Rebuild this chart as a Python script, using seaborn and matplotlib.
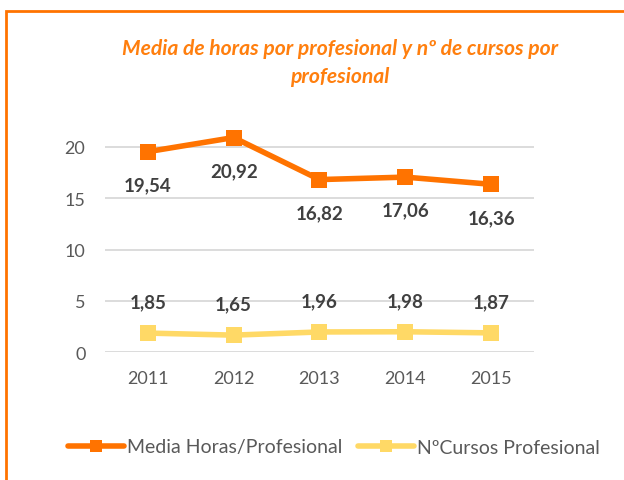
import matplotlib
matplotlib.use("Agg")
import matplotlib.pyplot as plt
import seaborn as sns
import pandas as pd
from matplotlib.patches import Rectangle
from matplotlib.lines import Line2D

# ── Data ──────────────────────────────────────────────────────
years = ["2011", "2012", "2013", "2014", "2015"]
media_horas = [19.54, 20.92, 16.82, 17.06, 16.36]
num_cursos = [1.85, 1.65, 1.96, 1.98, 1.87]
series_names = ["Media Horas/Profesional", "NºCursos Profesional"]

df = pd.DataFrame({
    "year": years * 2,
    "value": media_horas + num_cursos,
    "serie": [series_names[0]] * 5 + [series_names[1]] * 5,
})

sns.set_style("white")
plt.rcParams["font.family"] = ["Lato", "DejaVu Sans"]

orange = "#FF7300"
yellow = "#FFD966"
txt = "#404040"

fig = plt.figure(figsize=(6.24, 4.81), dpi=100)
ax = fig.add_axes([0.168, 0.266, 0.688, 0.469])

sns.lineplot(data=df, x="year", y="value", hue="serie", style="serie",
             palette=[orange, yellow], markers=["s", "s"], dashes=False,
             linewidth=4, markersize=11, markeredgewidth=0, ax=ax, legend=False)

ax.set_xlim(-0.5, 4.5)
ax.set_ylim(0, 22)
ax.set_yticks([0, 5, 10, 15, 20])
ax.yaxis.grid(True, color="#D9D9D9", linewidth=1.3)
ax.set_axisbelow(True)
for s in ax.spines.values():
    s.set_visible(False)
ax.set_xlabel("")
ax.set_ylabel("")
ax.tick_params(axis="both", length=0, labelsize=13, colors="#595959")
ax.tick_params(axis="x", pad=13)
ax.tick_params(axis="y", pad=14)

# data labels
for i, v in enumerate(media_horas):
    ax.annotate(f"{v:.2f}".replace(".", ","), (i, v), xytext=(0, -33),
                textcoords="offset pixels",
                ha="center", va="center", fontsize=13.5, fontweight="bold", color=txt)
for i, v in enumerate(num_cursos):
    ax.annotate(f"{v:.2f}".replace(".", ","), (i, v), xytext=(0, 31),
                textcoords="offset pixels",
                ha="center", va="center", fontsize=13.5, fontweight="bold", color=txt)

title_x = 340 / 624
fig.text(title_x, 1 - 49 / 481, "Media de horas por profesional y nº de cursos por",
         ha="center", va="center", fontsize=15.2, fontweight="bold",
         fontstyle="italic", color="#FF7F0E")
fig.text(title_x, 1 - 77 / 481, "profesional",
         ha="center", va="center", fontsize=15.2, fontweight="bold",
         fontstyle="italic", color="#FF7F0E")

# legend
handles = [Line2D([], [], color=c, lw=4, marker="s", markersize=9, markeredgewidth=0)
           for c in [orange, yellow]]
fig.legend(handles, series_names, loc="center", bbox_to_anchor=(334 / 624, 1 - 448 / 481),
           ncol=2, frameon=False, fontsize=14, handlelength=2.9, handletextpad=0.15,
           columnspacing=0.8, labelcolor="#595959")

# outer frame
fig.patches.append(Rectangle((6 / 624, -0.05), 1.2, 1 - 12 / 481 + 0.05,
                             transform=fig.transFigure, fill=False,
                             edgecolor=orange, linewidth=2))

fig.savefig("out.png", dpi=100)
